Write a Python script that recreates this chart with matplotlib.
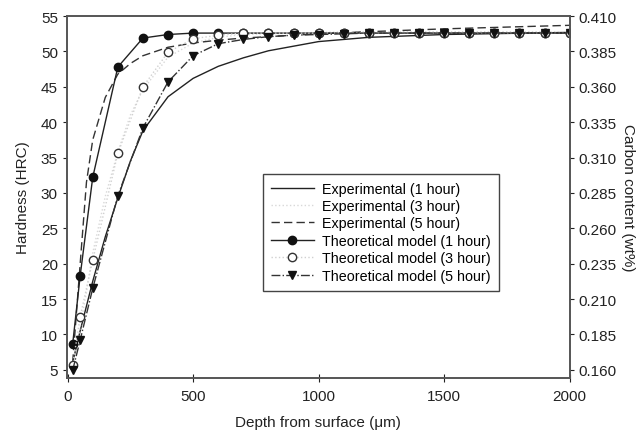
import matplotlib.pyplot as plt
import numpy as np

plt.rcParams.update({
    "font.family": "Liberation Sans",
    "font.size": 10,
    "axes.edgecolor": "#555555",
    "axes.linewidth": 1.2,
})

# theoretical model (markers)
depth_theo = [20, 50, 100, 200, 300, 400, 500, 600, 700, 800, 900, 1000,
              1100, 1200, 1300, 1400, 1500, 1600, 1700, 1800, 1900, 2000]
theo_1h = [8.6, 18.3, 32.2, 47.8, 51.9, 52.4, 52.6, 52.6, 52.6, 52.6, 52.6, 52.6,
           52.6, 52.6, 52.6, 52.6, 52.6, 52.6, 52.6, 52.6, 52.6, 52.6]
theo_3h = [5.6, 12.5, 20.5, 35.6, 45.0, 49.9, 51.8, 52.3, 52.6, 52.6, 52.6, 52.6,
           52.6, 52.6, 52.6, 52.6, 52.6, 52.6, 52.6, 52.6, 52.6, 52.6]
theo_5h = [4.9, 9.2, 16.5, 29.6, 39.2, 45.7, 49.4, 51.1, 51.7, 52.1, 52.3, 52.4,
           52.5, 52.6, 52.6, 52.6, 52.6, 52.6, 52.6, 52.6, 52.6, 52.6]

# experimental curves
depth_exp = [20, 50, 75, 100, 150, 200, 250, 300, 400, 500, 600, 700, 800, 1000, 1200, 1500, 2000]
exp_1h = [6.0, 10.5, 14.0, 17.5, 23.8, 29.3, 34.5, 38.8, 43.6, 46.2, 47.9, 49.1, 50.1, 51.4, 52.0, 52.4, 52.7]
exp_3h = [5.0, 11.0, 16.0, 21.5, 29.5, 35.8, 41.0, 44.6, 49.2, 51.2, 52.0, 52.4, 52.5, 52.7, 52.8, 52.8, 52.8]
exp_5h = [6.0, 20.0, 31.5, 37.5, 43.5, 46.8, 48.3, 49.4, 50.6, 51.2, 51.6, 51.9, 52.1, 52.5, 52.8, 53.2, 53.7]

fig, ax = plt.subplots(figsize=(6.43, 4.39), dpi=100)
fig.subplots_adjust(left=0.104, right=0.886, top=0.961, bottom=0.137)

ax.plot(depth_exp, exp_1h, color="#222222", lw=1.0, label="Experimental (1 hour)")
ax.plot(depth_exp, exp_3h, color="#d8d8d8", lw=1.0, ls=":", label="Experimental (3 hour)")
ax.plot(depth_exp, exp_5h, color="#333333", lw=1.0, ls=(0, (6, 3)), label="Experimental (5 hour)")
ax.plot(depth_theo, theo_1h, color="#222222", lw=1.0, marker="o", ms=6,
        mfc="#111111", mec="#111111", label="Theoretical model (1 hour)")
ax.plot(depth_theo, theo_3h, color="#d0d0d0", lw=1.0, ls=":", marker="o", ms=6,
        mfc="white", mec="#333333", mew=1.0, label="Theoretical model (3 hour)")
ax.plot(depth_theo, theo_5h, color="#333333", lw=1.0, ls="-.", marker="v", ms=6,
        mfc="#111111", mec="#111111", label="Theoretical model (5 hour)")

ylo = 3.85
ax.set_xlim(-3, 2000)
ax.set_ylim(ylo, 55)
ax.set_xticks([0, 500, 1000, 1500, 2000])
ax.set_yticks(np.arange(5, 56, 5))
ax.tick_params(axis="x", direction="inout", length=6, colors="#222222", labelsize=11, pad=5)
ax.tick_params(axis="y", direction="out", length=3, colors="#222222", labelsize=11)
ax.set_xlabel("Depth from surface (\u03bcm)", fontsize=11, labelpad=9, color="#222222")
ax.set_ylabel("Hardness (HRC)", fontsize=11, color="#222222", labelpad=8)

# carbon content axis, linearly tied to hardness
ax2 = ax.twinx()
ax2.set_ylim(0.160 + (ylo - 5) * 0.005, 0.410)
ax2.set_yticks([0.160, 0.185, 0.210, 0.235, 0.260, 0.285, 0.310, 0.335, 0.360, 0.385, 0.410])
ax2.yaxis.set_major_formatter(plt.FormatStrFormatter("%.3f"))
ax2.tick_params(axis="y", direction="out", length=3, colors="#222222", labelsize=11)
ax2.set_ylabel("Carbon content (wt%)", fontsize=11, rotation=270, labelpad=13, color="#222222")

leg = ax.legend(loc="upper left", bbox_to_anchor=(0.376, 0.584), fontsize=10.3,
                frameon=True, fancybox=False, edgecolor="#444444", framealpha=1,
                handlelength=3.0, handletextpad=0.6, labelspacing=0.24, borderpad=0.55)
leg.get_frame().set_linewidth(1.0)

fig.savefig("out.png", dpi=100)
